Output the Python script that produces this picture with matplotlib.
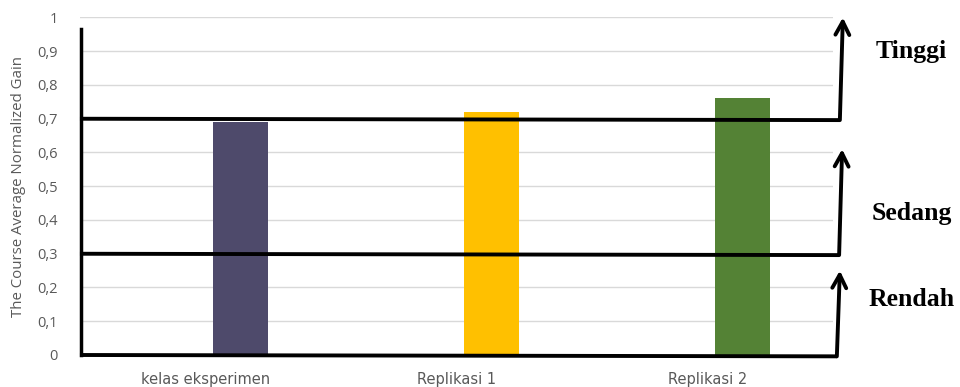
import matplotlib.pyplot as plt
import matplotlib.transforms as mtransforms

# data
categories = ['kelas eksperimen', 'Replikasi 1', 'Replikasi 2']
gain = [0.69, 0.72, 0.76]
bar_colors = ['#4E4A6B', '#FFC000', '#548235']
y_ticks = [0, 0.1, 0.2, 0.3, 0.4, 0.5, 0.6, 0.7, 0.8, 0.9, 1]
y_tick_labels = ['0', '0,1', '0,2', '0,3', '0,4', '0,5', '0,6', '0,7', '0,8', '0,9', '1']

# category borders: low / medium / high gain
borders = [0, 0.3, 0.7]
border_tops = [0.25, 0.61, 1.0]
border_names = ['Rendah', 'Sedang', 'Tinggi']
name_heights = [0.165, 0.42, 0.90]

fig = plt.figure(figsize=(9.6, 3.87), dpi=100)
ax = fig.add_axes([0.0833, 0.0827, 0.7845, 0.8721])

ax.bar(range(len(categories)), gain, width=0.22, color=bar_colors, zorder=2)

ax.set_xlim(-0.64, 2.36)
ax.set_ylim(0, 1)
ax.set_yticks(y_ticks)
ax.set_yticklabels(y_tick_labels, fontfamily='Open Sans', fontsize=10.5, color='#595959')
ax.set_xticks(range(len(categories)))
ax.set_xticklabels(categories, fontfamily='DejaVu Sans', fontsize=10.5, color='#595959')
ax.tick_params(axis='y', length=0, pad=16)
ax.tick_params(axis='x', length=0, pad=12)
# the category names sit a bit left of the bars in the original
shift = mtransforms.ScaledTranslation(-35 / 100, 0, fig.dpi_scale_trans)
for lab in ax.get_xticklabels():
    lab.set_transform(lab.get_transform() + shift)
ax.set_ylabel('The Course Average Normalized Gain', fontfamily='Open Sans',
              fontsize=10.8, color='#595959', labelpad=8)
ax.grid(axis='y', color='#D9D9D9', lw=1, zorder=0)
for s in ax.spines.values():
    s.set_visible(False)

# hand drawn border lines with arrows
trans = mtransforms.blended_transform_factory(ax.transAxes, ax.transData)
right_ends = [1.005, 1.008, 1.009]
for b, top, xr in zip(borders, border_tops, right_ends):
    ax.plot([0.0, xr], [b, b - 0.004], color='black', lw=2.8, transform=trans,
            clip_on=False, zorder=3, solid_capstyle='butt')
    ax.annotate('', xy=(xr + 0.004, top), xytext=(xr, b - 0.004),
                xycoords=trans, textcoords=trans,
                arrowprops=dict(arrowstyle='->,head_width=0.5,head_length=0.95',
                                color='black', lw=2.8, shrinkA=0, shrinkB=0),
                annotation_clip=False, zorder=3)
ax.plot([0.001, 0.001], [0, 0.966], color='black', lw=2.5, transform=trans,
        clip_on=False, zorder=3)

for name, h in zip(border_names, name_heights):
    ax.text(1.104, h, name, transform=trans, ha='center', va='center',
            fontfamily='Liberation Serif', fontweight='bold', fontsize=18.5)

plt.savefig('out.png', dpi=100)
